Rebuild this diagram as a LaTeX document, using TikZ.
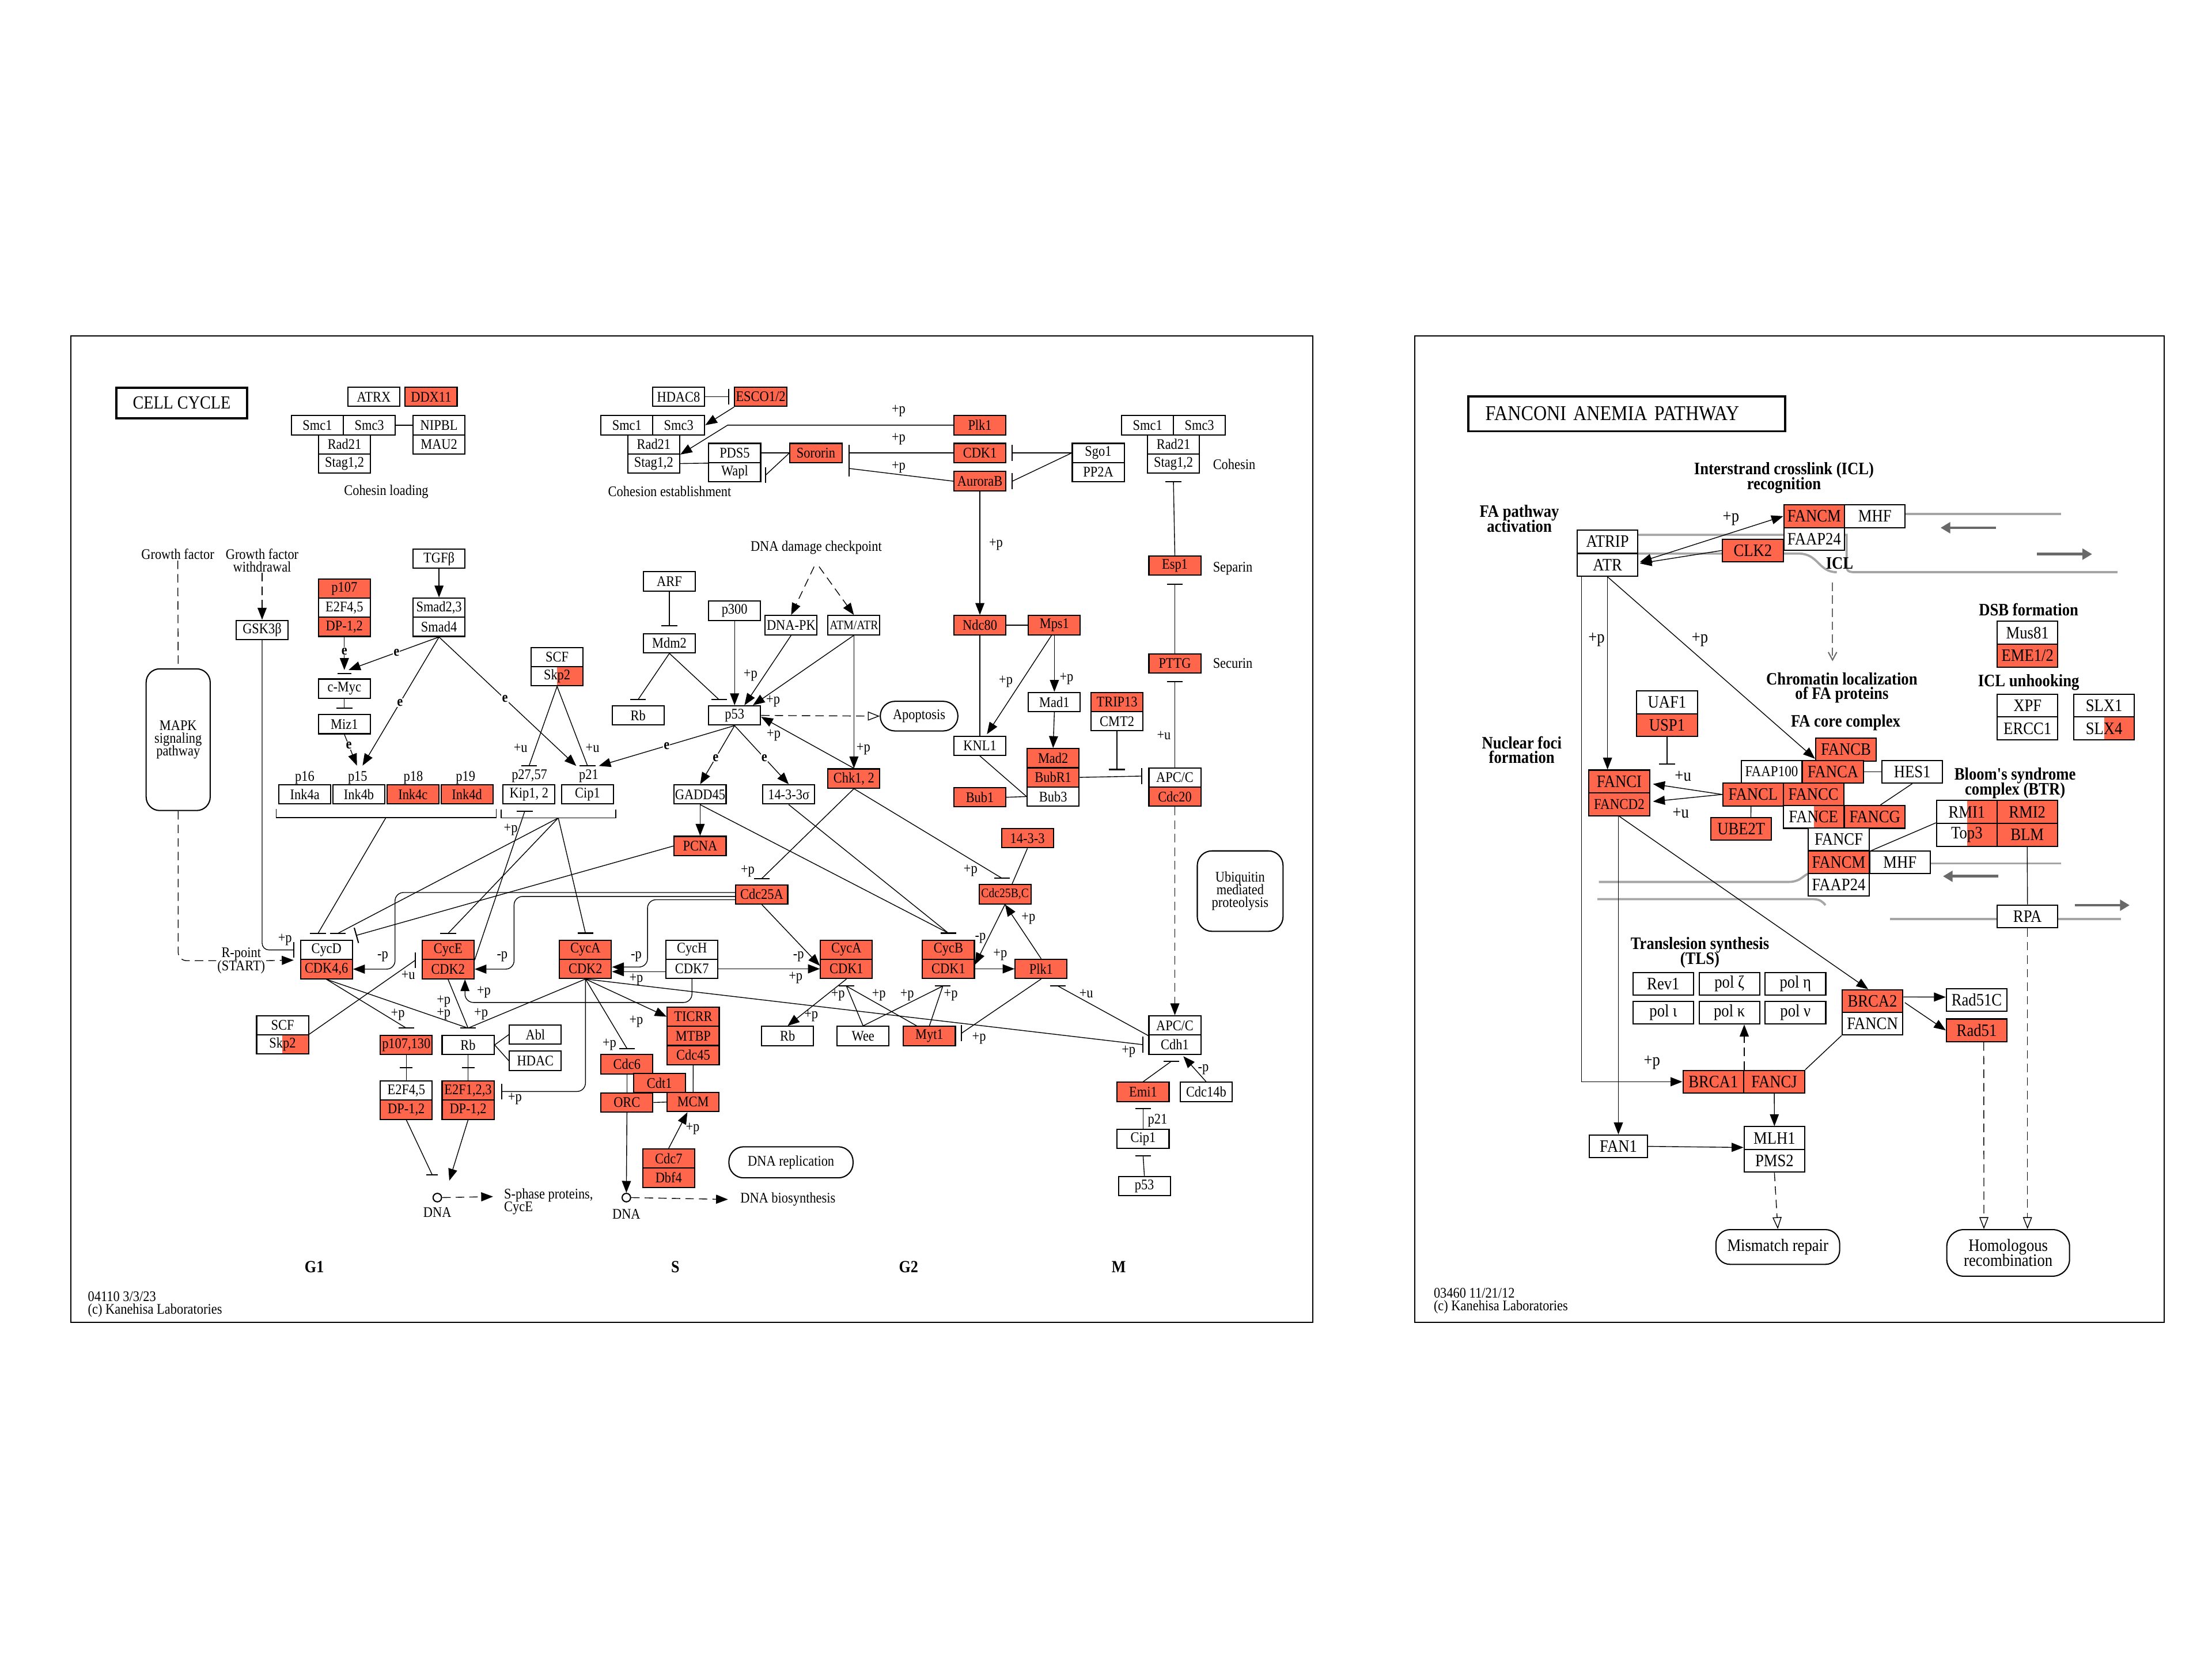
\documentclass[tikz,border=0pt]{standalone}
\usepackage{fontspec}
\setmainfont{Liberation Serif}
\newfontfamily\keggfont[FakeStretch=0.88]{Liberation Serif}
\usetikzlibrary{arrows.meta, calc}
\definecolor{kred}{RGB}{255,102,76}
\definecolor{strandc}{RGB}{165,165,165}
\definecolor{strandarr}{RGB}{105,105,105}
\newcommand\kgf{\keggfont\fontsize{7.4}{8}\selectfont}
\newcommand\kgs{\keggfont\fontsize{6.5}{7}\selectfont}
\newcommand\kgm{\keggfont\fontsize{7.4}{6.4}\selectfont\lineskiplimit=-4pt\lineskip=0pt}
\newcommand\kgr{\keggfont\fontsize{8.8}{9.4}\selectfont}
\newcommand\kgrs{\keggfont\fontsize{7.6}{8.2}\selectfont}
\newcommand\kgrm{\keggfont\fontsize{8.8}{7.6}\selectfont\lineskiplimit=-4pt\lineskip=0pt}
\newcommand\kgb{\keggfont\bfseries\fontsize{8.8}{7.4}\selectfont\lineskiplimit=-4pt\lineskip=0pt}
\newcommand\kgp{\keggfont\bfseries\fontsize{8.6}{9}\selectfont}
\newcommand\kgt{\keggfont\fontsize{9.3}{10}\selectfont}
\newcommand\kgtt{\keggfont\fontsize{10.6}{11}\selectfont}
% inhibition: line plus flat bar
\newcommand{\hinh}[2]{\draw[ln] (#1) -- (#2); \draw[ibar] ([xshift=-1.4mm]#2) -- ([xshift=1.4mm]#2);}
\newcommand{\vinh}[2]{\draw[ln] (#1) -- (#2); \draw[ibar] ([yshift=-1.4mm]#2) -- ([yshift=1.4mm]#2);}
\tikzset{
  gn/.style={draw, line width=0.6pt, fill=white, minimum width=9.2mm, minimum height=3.4mm, inner sep=0pt, font=\kgf},
  rd/.style={gn, fill=kred},
  fn/.style={gn, minimum width=10.75mm, minimum height=4.03mm, font=\kgr},
  fr/.style={fn, fill=kred},
  part/.style={path picture={\fill[kred] ([xshift=#1*0.25mm]path picture bounding box.south west) rectangle (path picture bounding box.north east);}},
  ln/.style={line width=0.4pt},
  arr/.style={ln, -{Triangle[length=2.1mm,width=1.6mm]}},
  dblarr/.style={ln, {Triangle[length=2.1mm,width=1.6mm]}-{Triangle[length=2.1mm,width=1.6mm]}},
  ibar/.style={line width=0.6pt},
  dsh/.style={ln, dash pattern=on 1.5mm off 0.9mm},
  darr/.style={dsh, -{Triangle[length=2.1mm,width=1.6mm]}},
  oarr/.style={dsh, -{Triangle[open,length=2.1mm,width=1.6mm]}},
  lab/.style={font=\kgf, inner sep=0.4pt},
  labr/.style={font=\kgr, inner sep=0.4pt},
  elab/.style={font=\kgf\bfseries, fill=white, inner sep=0.3pt},
  hd/.style={font=\kgb, align=center, inner sep=0pt},
  pw/.style={draw, line width=0.6pt, rounded corners=2.3mm, align=center, font=\kgm, inner sep=0pt},
  strand/.style={draw=strandc, line width=1.1pt},
  garr/.style={draw=strandarr, line width=1.4pt, -{Triangle[length=1.7mm,width=1.9mm]}},
  dnac/.style={circle, draw, line width=0.6pt, minimum size=1.5mm, inner sep=0pt},
}
\begin{document}
\begin{tikzpicture}[x=0.25mm, y=-0.25mm]
\useasboundingbox (0,0) rectangle (1568,1176);
\fill[white] (0,0) rectangle (1568,1176);
% panel frames
\draw[line width=0.6pt] (50.1,238.2) rectangle (930.5,937.2);
\draw[line width=0.6pt] (1002.7,238.2) rectangle (1534.2,937.2);

% ---------------- cell cycle ----------------
\node[draw, line width=1.1pt, minimum width=92.7*0.25mm, minimum height=21.4*0.25mm, inner sep=0pt, font=\kgt] (cc) at (128.8,285.6) {CELL CYCLE};

% cohesin loading
\node[gn] (atrx) at (265,281.2) {ATRX};
\node[rd] (ddx11) at (305.6,281.2) {DDX11};
\node[gn] (smc1a) at (225,301.3) {Smc1};
\node[gn] (smc3a) at (261.8,301.3) {Smc3};
\node[gn] (rad21a) at (244.2,314.9) {Rad21};
\node[gn] (stag12a) at (244.2,328.5) {Stag1,2};
\node[gn] (nipbl) at (311.2,301.3) {NIPBL};
\node[gn] (mau2) at (311.2,314.9) {MAU2};
\node[lab] (cohl) at (273.8,348.4) {Cohesin loading};

% cohesion establishment
\node[gn] (hdac8) at (481,281.2) {HDAC8};
\node[rd] (esco) at (539.2,281.2) {ESCO1/2};
\node[gn] (smc1b) at (444.4,301.3) {Smc1};
\node[gn] (smc3b) at (481.1,301.3) {Smc3};
\node[gn] (rad21b) at (463.4,314.9) {Rad21};
\node[gn] (stag12b) at (463.4,328.5) {Stag1,2};
\node[gn] (pds5) at (520.8,321) {PDS5};
\node[gn] (wapl) at (520.8,334.6) {Wapl};
\node[rd] (sororin) at (578.4,321) {Sororin};
\node[lab] (cohe) at (474.7,348.4) {Cohesion establishment};

\node[rd] (plk1a) at (694.6,301.3) {Plk1};
\node[rd] (cdk1a) at (694.6,321) {CDK1};
\node[rd] (aurb) at (694.6,341) {AuroraB};
\node[gn] (sgo1) at (778.5,321) {Sgo1};
\node[gn] (pp2a) at (778.5,334.6) {PP2A};
\node[gn] (smc1c) at (813.5,301.3) {Smc1};
\node[gn] (smc3c) at (850.2,301.3) {Smc3};
\node[gn] (rad21c) at (831.8,314.9) {Rad21};
\node[gn] (stag12c) at (831.8,328.5) {Stag1,2};
\node[lab, anchor=west] (cohn) at (859,329) {Cohesin};
\node[rd] (esp1) at (832.8,400.8) {Esp1};
\node[lab, anchor=west] (sepn) at (859,402.8) {Separin};
\node[rd] (pttg) at (832.8,470.2) {PTTG};
\node[lab, anchor=west] (secn) at (859,470.2) {Securin};

% spindle checkpoint
\node[rd] (ndc80) at (694.6,443) {Ndc80};
\node[rd] (mps1) at (747.4,443) {Mps1};
\node[gn] (mad1) at (747.4,497.5) {Mad1};
\node[rd] (trip13) at (791.8,497.5) {TRIP13};
\node[gn] (cmt2) at (791.8,511.1) {CMT2};
\node[gn] (knl1) at (694.6,528.5) {KNL1};
\node[rd] (mad2) at (746.5,537.3) {Mad2};
\node[rd] (bubr1) at (746.5,550.9) {BubR1};
\node[gn] (bub3) at (746.5,564.5) {Bub3};
\node[rd] (bub1) at (694.6,565) {Bub1};
\node[gn] (apca) at (832.8,551) {APC/C};
\node[rd] (cdc20) at (832.8,564.6) {Cdc20};
\node[pw, minimum width=60.8*0.25mm, minimum height=57*0.25mm, rounded corners=2.6mm] (ubq) at (879.1,631.5) {Ubiquitin\\mediated\\proteolysis};

% G2/M
\node[rd] (p1433) at (728.3,594) {14-3-3};
\node[rd, font=\kgs] (cdc25bc) at (712.4,633.7) {Cdc25B,C};
\node[rd] (cycb) at (672.3,673) {CycB};
\node[rd] (cdk1c) at (672.3,686.6) {CDK1};
\node[rd] (plk1b) at (738,686.6) {Plk1};
\node[gn] (apcb) at (832.8,726.7) {APC/C};
\node[gn] (cdh1) at (832.8,740.3) {Cdh1};
\node[rd] (emi1) at (810.3,773.8) {Emi1};
\node[gn] (cdc14b) at (855,773.8) {Cdc14b};
\node[gn] (cip1b) at (810.3,807) {Cip1};
\node[gn] (p53b) at (811.2,840.5) {p53};
\node[lab] (p21b) at (820.5,794) {p21};
\node[gn] (rbc) at (558.3,734.2) {Rb};
\node[gn] (wee) at (611.8,734.2) {Wee};
\node[rd] (myt1) at (658.8,734.2) {Myt1};

% DNA damage
\node[lab] (ddc) at (578.6,388) {DNA damage checkpoint};
\node[gn] (arf) at (474.5,412) {ARF};
\node[gn] (mdm2) at (474.5,455.8) {Mdm2};
\node[gn] (p300) at (520.7,432.8) {p300};
\node[gn] (dnapk) at (560.8,443) {DNA-PK};
\node[gn, font=\kgs] (atm) at (605.3,443) {ATM/ATR};
\node[gn] (scfa) at (394.9,465.6) {SCF};
\node[gn, part=18.3] (skp2a) at (394.9,479.2) {Skp2};
\node[gn] (rba) at (452.3,507) {Rb};
\node[gn] (p53a) at (520.7,507) {p53};
\node[pw, minimum width=55*0.25mm, minimum height=21*0.25mm, rounded corners=2.6mm] (apop) at (651.5,507.5) {Apoptosis};
\node[gn] (kip) at (375,563) {Kip1, 2};
\node[gn] (cip1a) at (416.5,563) {Cip1};
\node[lab] (p2757) at (375.3,550) {p27,57};
\node[lab] (p21a) at (417.3,550) {p21};
\node[gn] (gadd) at (496.3,563) {GADD45};
\node[gn] (sigma) at (559.1,563) {14-3-3σ};
\node[rd] (pcna) at (496.3,599.5) {PCNA};
\node[rd] (chk) at (605.3,551.7) {Chk1, 2};
\node[rd] (cdc25a) at (540,633.8) {Cdc25A};
\node[rd] (cyca2) at (415,673) {CycA};
\node[rd] (cdk2a) at (415,686.6) {CDK2};
\node[gn] (cych) at (490.5,673) {CycH};
\node[gn] (cdk7) at (490.5,686.6) {CDK7};
\node[rd] (cyca1) at (600,673) {CycA};
\node[rd] (cdk1b) at (600,686.6) {CDK1};

% G1
\node[lab] (gf) at (126,392.7) {Growth factor};
\node[lab, font=\kgm, align=center] (gfw) at (185.8,397) {Growth factor\\withdrawal};
\node[pw, minimum width=45.4*0.25mm, minimum height=100.4*0.25mm, rounded corners=2.4mm] (mapk) at (126.3,524.2) {MAPK\\signaling\\pathway};
\node[gn] (gsk) at (185.8,446.4) {GSK3β};
\node[rd] (p107) at (244.1,417) {p107};
\node[gn] (e2f45a) at (244.1,430.6) {E2F4,5};
\node[rd] (dp12a) at (244.1,444.2) {DP-1,2};
\node[gn] (tgfb) at (311.2,396) {TGFβ};
\node[gn] (smad23) at (311.2,430.6) {Smad2,3};
\node[gn] (smad4) at (311.2,444.2) {Smad4};
\node[gn] (cmyc) at (244.1,488) {c-Myc};
\node[gn] (miz1) at (244.1,513.2) {Miz1};
\node[gn] (ink4a) at (216.1,562.8) {Ink4a};
\node[gn] (ink4b) at (254.4,562.8) {Ink4b};
\node[rd] (ink4c) at (292.7,562.8) {Ink4c};
\node[rd] (ink4d) at (331,562.8) {Ink4d};
\node[lab] (p16) at (216,551) {p16};
\node[lab] (p15) at (253.5,551) {p15};
\node[lab] (p18) at (293,551) {p18};
\node[lab] (p19) at (330,551) {p19};
\node[gn] (cycd) at (231.4,673.2) {CycD};
\node[rd] (cdk46) at (231.4,686.8) {CDK4,6};
\node[rd] (cyce) at (317.6,673.2) {CycE};
\node[rd] (cdk2e) at (317.6,686.8) {CDK2};
\node[lab, font=\kgm, align=center] (rpt) at (171,680.8) {R-point\\(START)};
\node[gn] (scfb) at (200.3,726.6) {SCF};
\node[gn, part=18.3] (skp2b) at (200.3,740.2) {Skp2};
\node[rd] (p107b) at (288,740.5) {p107,130};
\node[gn] (rbb) at (331.8,740.5) {Rb};
\node[gn] (abl) at (379.5,733.2) {Abl};
\node[gn] (hdac) at (379.5,751.7) {HDAC};
\node[gn] (e2f45b) at (288,772.8) {E2F4,5};
\node[rd] (dp12b) at (288,786.4) {DP-1,2};
\node[rd] (e2f123) at (331.8,772.8) {E2F1,2,3};
\node[rd] (dp12c) at (331.8,786.4) {DP-1,2};
\node[dnac] (dna1) at (310,848.7) {};
\node[lab] (dna1t) at (310,859) {DNA};
\node[lab, font=\kgm, align=left, anchor=north west] (sph) at (356.5,841.5) {S-phase proteins,\\CycE};

% S phase
\node[rd] (ticrr) at (491.4,720.5) {TICRR};
\node[rd] (mtbp) at (491.4,734.1) {MTBP};
\node[rd] (cdc45) at (491.4,747.7) {Cdc45};
\node[rd] (cdc6) at (444.4,754.2) {Cdc6};
\node[rd] (cdt1) at (467.4,767.4) {Cdt1};
\node[rd] (orc) at (444.4,781.3) {ORC};
\node[rd] (mcm) at (491.3,781) {MCM};
\node[rd] (cdc7) at (474,821) {Cdc7};
\node[rd] (dbf4) at (474,834.6) {Dbf4};
\node[pw, minimum width=88*0.25mm, minimum height=22*0.25mm, rounded corners=2.6mm] (dnarep) at (560.7,823.7) {DNA replication};
\node[dnac] (dna2) at (444,848.7) {};
\node[lab] (dna2t) at (444,860.5) {DNA};
\node[lab, anchor=west] (dnabio) at (524,850) {DNA biosynthesis};

\node[font=\kgp] (g1) at (222.8,898) {G1};
\node[font=\kgp] (sph2) at (478.7,898) {S};
\node[font=\kgp] (g2) at (644,898) {G2};
\node[font=\kgp] (mph) at (793,898) {M};
\node[lab, font=\kgm, align=left, anchor=west] (ft1) at (61.5,924.3) {04110 3/3/23\\(c) Kanehisa Laboratories};

% cohesin links
\draw[ln] (smc3a.east) -- (nipbl.west);
\coordinate (b1) at ($(esco.west)+(-4,0)$);
\vinh{hdac8.east}{b1}
\draw[arr] (esco.south west) -- (smc3b.east);
\draw[arr] (plk1a.west) -- ++(-160,0) -- (rad21b.south east);
\coordinate (b2) at ($(sororin.east)+(4.8,0)$);
\vinh{cdk1a.west}{b2}
\coordinate (b3) at ($(sororin.east)+(4.8,11)$);
\vinh{aurb.west}{b3}
\node[lab] (lp1) at (637,291) {+p};
\node[lab] (lp2) at (637,311) {+p};
\node[lab] (lp3) at (637,331) {+p};
\draw[ln] (pds5.east) -- (sororin.west);
\draw[ln] (stag12b.east) -- (pds5.south west);
\coordinate (b4) at ($(wapl.east)+(3.2,2)$);
\vinh{sororin.west}{b4}
\coordinate (b5) at ($(cdk1a.east)+(4.2,0)$);
\vinh{sgo1.west}{b5}
\coordinate (b6) at ($(aurb.east)+(4.2,0)$);
\vinh{sgo1.west}{b6}
\coordinate (b7) at ($(stag12c.south)+(0,5.5)$);
\hinh{esp1.north}{b7}
\coordinate (b8) at ($(esp1.south)+(0,6)$);
\hinh{pttg.north}{b8}
\coordinate (b9) at ($(pttg.south)+(0,5.5)$);
\hinh{apca.north}{b9}
\node[lab] (lu1) at (825,521) {+u};

% spindle checkpoint links
\draw[arr] (aurb.south) -- (ndc80.north);
\node[lab] (lp4) at (706,386) {+p};
\draw[ln] (ndc80.east) -- (mps1.west);
\draw[arr] (mps1.south) -- (mad1.north);
\node[lab] (lp5) at (756,481) {+p};
\draw[arr] ($(mps1.south)+(-2,0)$) -- ($(knl1.north)+(5,-1)$);
\node[lab] (lp6) at (713,483) {+p};
\draw[ln] (ndc80.south) -- (knl1.north);
\draw[arr] (mad1.south) -- (mad2.north);
\draw[ln] (knl1.south) -- (bub3.west);
\draw[ln] (bub1.east) -- (bub3.west);
\coordinate (b10) at ($(cmt2.south)+(0,27)$);
\hinh{cmt2.south}{b10}
\coordinate (b11) at ($(apca.west)+(-4.8,-1)$);
\vinh{bubr1.east}{b11}
\draw[darr] (cdc20.south) -- (apcb.north);

% G2/M links
\draw[ln] (p1433.south) -- ($(cdc25bc.north)+(5,0)$);
\coordinate (b12) at ($(cdc25bc.north)+(-2,-4)$);
\hinh{chk.south}{b12}
\node[lab] (lp7) at (688,617) {+p};
\coordinate (b13) at ($(cycb.north)+(0,-4.5)$);
\hinh{gadd.south}{b13}
\hinh{sigma.south}{b13}
\draw[arr] (cdc25bc.south) -- ($(cdk1c.east)+(0,-3)$);
\node[lab] (lm1) at (695,665) {-p};
\draw[arr] (plk1b.north) -- (cdc25bc.south);
\node[lab] (lp8) at (729,651) {+p};
\draw[arr] (cdk1c.east) -- (plk1b.west);
\node[lab] (lp9) at (709,676.6) {+p};
\coordinate (b14) at ($(plk1b.south)+(12,5)$);
\hinh{apcb.south west}{b14}
\node[lab] (lu2) at (770,704) {+u};
\coordinate (b15) at ($(myt1.east)+(4,-2)$);
\vinh{plk1b.south}{b15}
\node[lab] (lp10) at (694,736) {+p};
\coordinate (b16) at ($(cdk1c.south)+(-4,5)$);
\hinh{wee.north}{b16}
\hinh{myt1.north}{b16}
\node[lab] (lp11) at (643,705) {+p};
\node[lab] (lp12) at (674,705) {+p};
\coordinate (b17) at ($(cdk1b.south)+(0,5)$);
\hinh{wee.north}{b17}
\hinh{$(myt1.north)+(-9,0)$}{b17}
\node[lab] (lp13) at (594,705) {+p};
\node[lab] (lp14) at (623,705) {+p};
\draw[arr] (cdk1b.south) -- (rbc.north);
\node[lab] (lp15) at (575,720) {+p};
\coordinate (b18) at ($(cdh1.west)+(-4,0)$);
\vinh{cdk2a.south}{b18}
\node[lab] (lp16) at (800,745) {+p};
\coordinate (b19) at ($(cdh1.south)+(-2.5,4.6)$);
\hinh{emi1.north}{b19}
\draw[arr] (cdc14b.north) -- ($(cdh1.south)+(6,1)$);
\node[lab] (lm2) at (853,758) {-p};
\coordinate (b20) at ($(emi1.south)+(0,4.7)$);
\hinh{cip1b.north}{b20}
\coordinate (b21) at ($(cip1b.south)+(0,5)$);
\hinh{p53b.north}{b21}

% CDK activation
\draw[arr] (cdk7.east) -- (cdk1b.west);
\node[lab] (lp17) at (564,693) {+p};
\draw[arr] ($(cdk7.west)+(0,2)$) -- ($(cdk2a.east)+(0,2)$);
\node[lab] (lp18) at (451,694) {+p};
\draw[arr] (cdc25a.south) -- ($(cdk1b.west)+(0,-2.2)$);
\node[lab] (lm3) at (566,678) {-p};
\draw[arr, rounded corners=1.5mm] ($(cdc25a.west)+(0,3.8)$) -- (459,637.6) -- (459,685.3) -- ($(cdk2a.east)+(0,-1.3)$);
\node[lab] (lm4) at (451,678) {-p};
\draw[arr, rounded corners=1.5mm] ($(cdc25a.west)+(0,1.5)$) -- (364.4,635.3) -- (364.4,686.8) -- (cdk2e.east);
\node[lab] (lm5) at (356,678) {-p};
\draw[arr, rounded corners=1.5mm] ($(cdc25a.west)+(0,-1.3)$) -- (280,632.5) -- (280,686.8) -- (cdk46.east);
\node[lab] (lm6) at (271.3,678) {-p};

% DNA damage links
\coordinate (b22) at ($(cdc25a.north)+(0,-4)$);
\hinh{chk.south}{b22}
\node[lab] (lp19) at (530,617.4) {+p};
\draw[arr] (atm.south) -- (chk.north);
\node[lab] (lp20) at (612,531) {+p};
\draw[arr] (chk.north) -- ($(p53a.east)+(0,1)$);
\node[lab] (lp21) at (548.4,521) {+p};
\draw[oarr] (p53a.east) -- (apop.west);
\draw[arr] (p300.south) -- (p53a.north);
\draw[arr] (dnapk.south) -- ($(p53a.north)+(7,0)$);
\node[lab] (lp22) at (532,478.6) {+p};
\draw[arr] (atm.south) -- ($(p53a.north)+(13,0)$);
\node[lab] (lp23) at (548,497) {+p};
\draw[darr] ($(ddc.south)+(-1.5,8)$) -- (dnapk.north);
\draw[darr] ($(ddc.south)+(2,8)$) -- (atm.north);
\coordinate (b23) at ($(mdm2.north)+(0,-5)$);
\hinh{arf.south}{b23}
\coordinate (b24) at ($(rba.north)+(0,-4)$);
\hinh{mdm2.south}{b24}
\coordinate (b25) at ($(p53a.north)+(-11,-4)$);
\hinh{mdm2.south}{b25}
\coordinate (p21top) at ($(cip1a.north)+(0,-13)$);
\coordinate (p27top) at ($(kip.north)+(0,-13)$);
\draw[arr] (p53a.south) -- node[elab, pos=0.5]{e} ($(p21top)+(8,0)$);
\draw[arr] (smad4.south) -- node[elab, pos=0.48]{e} ($(p21top)+(-8,0)$);
\hinh{skp2a.south}{p27top}
\hinh{skp2a.south}{p21top}
\node[lab] (lu3) at (369,530) {+u};
\node[lab] (lu4) at (420,530) {+u};
\draw[arr] (p53a.south) -- node[elab, pos=0.55]{e} (gadd.north);
\draw[arr] (p53a.south) -- node[elab, pos=0.55]{e} (sigma.north);
\draw[arr] (gadd.south) -- (pcna.north);

% CKI brackets
\draw[ln] ($(kip.south west)+(-1,3.4)$) -- ++(0,6) -| ($(cip1a.south east)+(1.2,3.4)$);
\draw[ln] ($(ink4a.south west)+(-1.5,3.4)$) -- ++(0,6) -| ($(ink4d.south east)+(2,3.4)$);
\coordinate (brk27) at ($(kip.south)!0.5!(cip1a.south)+(0,9.4)$);
\coordinate (brkink) at ($(ink4b.south)!0.5!(ink4c.south)+(0,9.4)$);
\coordinate (bd1) at ($(cycd.north)+(-6,-4.5)$);
\coordinate (bd2) at ($(cycd.north)+(8,-4.5)$);
\coordinate (be1) at ($(cyce.north)+(0,-4.5)$);
\coordinate (ba2) at ($(cyca2.north)+(0,-4.5)$);
\hinh{brkink}{bd1}
\hinh{brk27}{bd2}
\hinh{brk27}{be1}
\hinh{brk27}{ba2}
\coordinate (bd3) at ($(cycd.north east)+(2,-3)$);
\draw[ln, -{Bar[width=2.8mm, line width=0.6pt]}] (pcna.west) -- (bd3);
\coordinate (bk) at ($(kip.south)+(-3,4.6)$);
\hinh{cyce.south east}{bk}
\node[lab] (lp24) at (362,588) {+p};

% G1 links
\coordinate (bg) at ($(cycd.west)+(-4.4,0)$);
\draw[ln, rounded corners=1.2mm] (gsk.south) -- (gsk.south |- bg) -- (bg);
\draw[ibar] ([yshift=-1.4mm]bg) -- ([yshift=1.4mm]bg);
\node[lab] (lp25) at (202,666) {+p};
\draw[dsh] (gf.south) -- (mapk.north);
\draw[darr] (gfw.south) -- (gsk.north);
\draw[dsh, rounded corners=1.5mm] (mapk.south) |- (rpt.west);
\draw[darr] (rpt.east) -- ($(cycd.south west)+(-4.4,0)$);
\draw[arr] (tgfb.south) -- (smad23.north);
\draw[arr] (dp12a.south) -- node[elab, pos=0.43]{e} ($(cmyc.north)+(0,-6)$);
\draw[arr] (smad4.south) -- node[elab, pos=0.47]{e} ($(cmyc.north)+(3,-6)$);
\draw[ibar] ($(cmyc.north)+(-5,-3.5)$) -- ($(cmyc.north)+(5,-3.5)$);
\coordinate (bm) at ($(miz1.north)+(0,-4)$);
\hinh{cmyc.south}{bm}
\draw[arr] (miz1.south) -- node[elab, pos=0.36]{e} ($(ink4b.north)+(-1.4,-13)$);
\draw[arr] (smad4.south) -- node[elab, pos=0.51]{e} ($(ink4b.north)+(2.6,-13)$);
\coordinate (bs) at ($(cyce.south west)+(-4.3,0)$);
\vinh{skp2b.north east}{bs}
\node[lab] (lu5) at (289.4,691) {+u};
\coordinate (bp107) at ($(p107b.north)+(0,-4.7)$);
\coordinate (brb) at ($(rbb.north)+(0,-4.7)$);
\hinh{cdk46.south}{bp107}
\hinh{cdk46.south}{brb}
\hinh{cdk2e.south}{brb}
\hinh{cdk2a.south}{brb}
\node[lab] (lp26) at (282,719) {+p};
\node[lab] (lp27) at (314.5,718.5) {+p};
\node[lab] (lp28) at (314.5,709.6) {+p};
\node[lab] (lp29) at (341,718.5) {+p};
\draw[arr, rounded corners=1.5mm] (cdk7.south) -- ++(0,16.6) -| ($(cdk2e.south)+(12,0)$);
\node[lab] (lp30) at (343,703) {+p};

% S phase links
\draw[arr] (cdk2a.south) -- (ticrr.west);
\node[lab] (lp31) at (451,724) {+p};
\coordinate (bc6) at ($(cdc6.north)+(0,-4)$);
\hinh{cdk2a.south}{bc6}
\node[lab] (lp34) at (432,740.4) {+p};
\coordinate (be2f) at ($(e2f123.east)+(5,0.7)$);
\draw[ln, rounded corners=1.5mm] (cdk2a.south) -- (cdk2a.south |- be2f) -- (be2f);
\draw[ibar] ([yshift=-1.4mm]be2f) -- ([yshift=1.4mm]be2f);
\node[lab] (lp32) at (365,778.5) {+p};
\draw[ln] (rbb.east) -- (abl.west);
\draw[ln] (rbb.east) -- (hdac.west);
\draw[ln] (p107b.south) -- (e2f45b.north);
\draw[ibar] ($(p107b.south)!0.5!(e2f45b.north)+(-4.5,0)$) -- ($(p107b.south)!0.5!(e2f45b.north)+(4.5,0)$);
\draw[ln] (rbb.south) -- (e2f123.north);
\draw[ibar] ($(rbb.south)!0.5!(e2f123.north)+(-4.5,0)$) -- ($(rbb.south)!0.5!(e2f123.north)+(4.5,0)$);
\coordinate (bdna) at ($(dna1)+(-3.7,-16.3)$);
\draw[ln] (dp12b.south) -- (bdna);
\draw[ibar] ([xshift=-1mm]bdna) -- ([xshift=1mm]bdna);
\draw[arr] (dp12c.south) -- ($(dna1)+(8.5,-12)$);
\draw[darr] (dna1.east) -- ($(sph.north west)+(-7,6.5)$);
\draw[arr] (orc.south) -- (dna2.north);
\draw[darr] (dna2.east) -- ($(dnabio.west)+(-8,0)$);
\draw[arr] (cdc7.north) -- ($(mcm.south)+(-4,0)$);
\node[lab] (lp33) at (491,800) {+p};
\draw[ln] (cdc45.south) -- (mcm.north);
\draw[ln] (orc.east) -- (mcm.west);
\draw[ln] (cdc6.south) -- (orc.north);

% ---------------- Fanconi anemia ----------------
\node[draw, line width=1.1pt, anchor=west, minimum height=24.8*0.25mm, inner ysep=0pt, inner xsep=12*0.25mm, text width=200.4*0.25mm, align=left, font=\kgtt] (fat) at (1040.2,293.2) {FANCONI ANEMIA PATHWAY};

% DNA strands
\draw[strand] (1161,379) -- (1309,379) -- (1309,398) .. controls (1309,405.5) .. (1318,405.5) -- (1501,405.5);
\draw[strand] (1161,392.3) -- (1275,392.3) .. controls (1289,392.3) and (1289,405.5) .. (1302,405.5);
\draw[strand] (1350.8,364.1) -- (1461,364.1);
\draw[garr] (1414.8,374) -- (1375.6,374);
\draw[garr] (1443.8,392.7) -- (1483,392.7);
\draw[draw=strandarr, line width=0.6pt, dash pattern=on 1.5mm off 0.8mm, -{Straight Barb[length=1.4mm,width=1.5mm]}] (1299,412.8) -- (1299,468.6);
\draw[strand] (1368.6,611.9) -- (1461,611.9);
\draw[strand] (1133.4,625) -- (1268,625) .. controls (1277,625) and (1279,619) .. (1283,618.9);
\draw[strand] (1132.3,637.2) -- (1285,637.2) .. controls (1290,637.2) and (1292,639) .. (1294,641.5);
\draw[strand] (1339.7,651.3) -- (1503.5,651.3);
\draw[garr] (1416.4,621) -- (1377.3,621);
\draw[garr] (1471,641.5) -- (1509.6,641.5);

\node[hd] (iclr) at (1264.6,338.6) {Interstrand crosslink (ICL)\\recognition};
\node[hd] (fapa) at (1077,367.5) {FA pathway\\activation};
\node[hd] (icl) at (1304,399) {ICL};
\node[hd] (dsb) at (1438,432) {DSB formation};
\node[hd] (iclu) at (1438,483.5) {ICL unhooking};
\node[hd] (chrl) at (1305.6,487.5) {Chromatin localization\\of FA proteins};
\node[hd] (facc) at (1308.3,512) {FA core complex};
\node[hd] (nff) at (1078.7,531.5) {Nuclear foci\\formation};
\node[hd] (btr) at (1428.4,555) {Bloom's syndrome\\complex (BTR)};
\node[hd] (tls) at (1205,675) {Translesion synthesis\\(TLS)};

\node[fn] (atrip) at (1139.5,383.8) {ATRIP};
\node[fn] (atr) at (1139.5,400.3) {ATR};
\node[fr] (fancmt) at (1286,365.8) {FANCM};
\node[fn] (mhft) at (1329,365.8) {MHF};
\node[fn] (faap24t) at (1286,381.9) {FAAP24};
\node[fr] (clk2) at (1242.5,390.1) {CLK2};
\node[fn] (mus81) at (1437.2,448.4) {Mus81};
\node[fr] (eme12) at (1437.2,464.6) {EME1/2};
\node[fn] (xpf) at (1437.2,500) {XPF};
\node[fn] (ercc1) at (1437.2,516.2) {ERCC1};
\node[fn] (slx1) at (1491.5,500) {SLX1};
\node[fn, part=21.6] (slx4) at (1491.5,516.2) {SLX4};
\node[fn] (uaf1) at (1181.7,497.7) {UAF1};
\node[fr] (usp1) at (1181.7,513.9) {USP1};
\node[fr] (fanci) at (1147.8,553.8) {FANCI};
\node[fr, font=\kgrs] (fancd2) at (1147.8,570) {FANCD2};
\node[fr] (fancb) at (1308.5,531.2) {FANCB};
\node[fn, font=\kgrs] (faap100) at (1255.8,546.9) {FAAP100};
\node[fr] (fanca) at (1299.3,546.9) {FANCA};
\node[fn] (hes1) at (1355.5,546.9) {HES1};
\node[fr] (fancl) at (1242.7,563) {FANCL};
\node[fr] (fancc) at (1285.5,563) {FANCC};
\node[fn, part=22] (fance) at (1285.5,578.9) {FANCE};
\node[fr] (fancg) at (1329,578.9) {FANCG};
\node[fn] (fancf) at (1303.4,594.8) {FANCF};
\node[fr] (fancmb) at (1303.4,611) {FANCM};
\node[fn] (mhfb) at (1346.8,611) {MHF};
\node[fn] (faap24b) at (1303.4,627) {FAAP24};
\node[fr] (ube2t) at (1234.3,587.4) {UBE2T};
\node[fn, part=21.6] (rmi1) at (1394.2,575.4) {RMI1};
\node[fr] (rmi2) at (1437,575.4) {RMI2};
\node[fn, part=21.6] (top3) at (1394.2,591.6) {Top3};
\node[fr] (blm) at (1437,591.6) {BLM};
\node[fn] (rpa) at (1437.2,649.4) {RPA};
\node[fn] (rev1) at (1179,697.2) {Rev1};
\node[fn] (polz) at (1225.9,697.2) {pol ζ};
\node[fn] (polh) at (1272.7,697.2) {pol η};
\node[fn] (poli) at (1179,717.6) {pol ι};
\node[fn] (polk) at (1225.9,717.6) {pol κ};
\node[fn] (poln) at (1272.7,717.6) {pol ν};
\node[fr] (brca2) at (1327.3,709.5) {BRCA2};
\node[fn] (fancn) at (1327.3,725.4) {FANCN};
\node[fn] (rad51c) at (1401.2,708.6) {Rad51C};
\node[fr] (rad51) at (1401.2,730.2) {Rad51};
\node[fr] (brca1) at (1214.5,766.6) {BRCA1};
\node[fr] (fancj) at (1257.7,766.6) {FANCJ};
\node[fn] (mlh1) at (1257.8,806.5) {MLH1};
\node[fn] (pms2) at (1257.8,822.6) {PMS2};
\node[fn, minimum width=41*0.25mm] (fan1) at (1147.2,812.4) {FAN1};
\node[pw, font=\kgrm, minimum width=87.7*0.25mm, minimum height=24.6*0.25mm, rounded corners=2.5mm] (mmr) at (1260.2,883.7) {Mismatch repair};
\node[pw, font=\kgrm, minimum width=87*0.25mm, minimum height=33*0.25mm, rounded corners=3mm] (hr) at (1423.5,887.9) {Homologous\\recombination};
\node[lab, font=\kgm, align=left, anchor=west] (ft2) at (1015.5,922) {03460 11/21/12\\(c) Kanehisa Laboratories};

% FA links
\draw[dblarr] ($(atr.east)+(1,-2)$) -- (fancmt.west);
\node[labr] (lp40) at (1227,367.7) {+p};
\draw[arr] (clk2.west) -- ($(atr.east)+(1,-1)$);
\draw[arr] (atr.south) -- (fanci.north -| atr.south);
\node[labr] (lp41) at (1131.7,453.2) {+p};
\draw[arr] ($(atr.south west)+(3.4,0)$) |- (brca1.west);
\node[labr] (lp42) at (1171,753) {+p};
\draw[arr] (atr.south) -- ($(fancb.south west)+(0,-2)$);
\node[labr] (lp43) at (1205,453.2) {+p};
\coordinate (bu) at ($(usp1.south)+(0,19)$);
\hinh{usp1.south}{bu}
\draw[arr] (fancl.west) -- ($(fanci.east)+(2,1.8)$);
\draw[arr] (fancl.west) -- ($(fancd2.east)+(2,-2)$);
\node[labr] (lu6) at (1193,550) {+u};
\node[labr] (lu7) at (1191.4,576) {+u};
\draw[ln] (fanca.east) -- (hes1.west);
\draw[ln] (hes1.south) -- ($(fancg.north)+(4,0)$);
\draw[ln] ($(fancl.south)+(-1.5,0)$) -- ($(ube2t.north)+(6.8,0)$);
\draw[ln] (top3.north west) -- (fancf.south east);
\draw[ln] (blm.south) -- (rpa.north);
\draw[arr] (fancd2.south) -- ($(brca2.north)+(-3,0)$);
\draw[arr] (fancd2.south -| fan1.north) -- (fan1.north);
\draw[arr] ($(brca2.east)+(0,-3)$) -- ($(rad51c.west)+(0,-2)$);
\draw[arr] ($(brca2.east)+(1,1)$) -- (rad51.west);
\draw[ln] (fancn.south west) -- (fancj.north east);
\draw[arr] (fancj.south) -- (mlh1.north);
\draw[arr] (fan1.east) -- ($(mlh1.south west)+(0,-1.8)$);
\draw[darr] (brca1.north east) -- (polk.south -| brca1.north east);
\draw[oarr] (pms2.south) -- (mmr.north);
\draw[oarr] ($(rad51.south)+(5,0)$) -- ($(hr.north)+(-17.2,0)$);
\draw[oarr] (rpa.south) -- (rpa.south |- hr.north);
\end{tikzpicture}
\end{document}
